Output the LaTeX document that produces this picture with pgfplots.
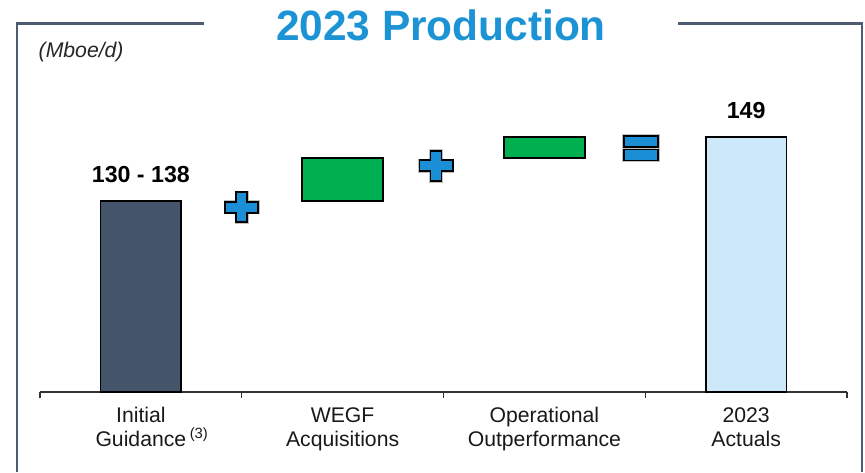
\documentclass[border=0pt]{standalone}
\usepackage{pgfplots}
\pgfplotsset{compat=1.18}
\usepackage{fontspec}
\setmainfont{Liberation Sans}

\definecolor{framecol}{HTML}{4E5B73}
\definecolor{titleblue}{HTML}{1B93D4}
\definecolor{slate}{HTML}{44546A}
\definecolor{barGreen}{HTML}{00B050}
\definecolor{lightblue}{HTML}{CDE8F9}
\definecolor{opblue}{HTML}{1A8FD6}

% operator glyphs drawn around a centre point
\newcommand\plussign[1]{%
  \draw[draw=gray!50, line width=2.4pt, fill=opblue]
    (#1) +(-4.125pt,11.25pt) -- +(4.125pt,11.25pt) -- +(4.125pt,4.125pt)
    -- +(12.4pt,4.125pt) -- +(12.4pt,-4.125pt) -- +(4.125pt,-4.125pt)
    -- +(4.125pt,-11.25pt) -- +(-4.125pt,-11.25pt) -- +(-4.125pt,-4.125pt)
    -- +(-12.4pt,-4.125pt) -- +(-12.4pt,4.125pt) -- +(-4.125pt,4.125pt) -- cycle;
  \draw[draw=black, line width=1.4pt, fill=opblue]
    (#1) +(-4.125pt,11.25pt) -- +(4.125pt,11.25pt) -- +(4.125pt,4.125pt)
    -- +(12.4pt,4.125pt) -- +(12.4pt,-4.125pt) -- +(4.125pt,-4.125pt)
    -- +(4.125pt,-11.25pt) -- +(-4.125pt,-11.25pt) -- +(-4.125pt,-4.125pt)
    -- +(-12.4pt,-4.125pt) -- +(-12.4pt,4.125pt) -- +(-4.125pt,4.125pt) -- cycle;}
\newcommand\equalsign[1]{%
  \draw[draw=gray!50, line width=2.4pt, fill=opblue]
    (#1) +(-12.75pt,1.1pt) rectangle +(12.75pt,9.35pt)
    (#1) +(-12.75pt,-9.35pt) rectangle +(12.75pt,-1.1pt);
  \draw[draw=black, line width=1.4pt, fill=opblue]
    (#1) +(-12.75pt,1.1pt) rectangle +(12.75pt,9.35pt)
    (#1) +(-12.75pt,-9.35pt) rectangle +(12.75pt,-1.1pt);}

\begin{document}
\begin{tikzpicture}[x=0.75pt, y=0.75pt]
\path[use as bounding box] (0,0) rectangle (865,472);

% frame around the panel, broken by the title
\draw[framecol, line width=1.6pt] (17,0) -- (17,448.5) -- (204,448.5);
\draw[framecol, line width=1.6pt] (678,448.5) -- (862,448.5) -- (862,0);

\node[text=titleblue, font=\fontsize{31.8}{38}\selectfont\bfseries] at (441,447) {2023 Production};
\node[anchor=west, font=\fontsize{15.9}{19}\selectfont\itshape, text=black!85] at (34,420) {(Mboe/d)};

\begin{axis}[
  at={(30pt,60pt)}, anchor=south west,
  scale only axis,
  width=605.25pt, height=226.3pt,
  xmin=-0.5, xmax=3.5,
  ymin=89, ymax=160,
  axis x line=bottom,
  axis y line=none,
  x axis line style={-, black!80, line width=0.8pt},
  xtick={-0.5,0.5,1.5,2.5,3.5},
  xticklabels={},
  tick align=outside,
  major tick length=4.5pt,
  tick style={black!80, line width=0.8pt},
  extra x ticks={0,1,2,3},
  extra x tick labels={Initial\\Guidance\rlap{\,\textsuperscript{(3)}},WEGF\\Acquisitions,Operational\\Outperformance,2023\\Actuals},
  extra x tick style={major tick length=0pt,
    tick label style={align=center, text=black!90,
      font=\fontsize{15.9}{18}\selectfont, yshift=-8pt}},
  clip=false,
]
% start and end totals
\addplot[fill=slate, draw=black, line width=1.4pt]
  coordinates {(-0.2,89) (0.2,89) (0.2,134) (-0.2,134)} -- cycle;
\addplot[fill=lightblue, draw=black, line width=1.4pt]
  coordinates {(2.8,89) (3.2,89) (3.2,149) (2.8,149)} -- cycle;
% increments: WEGF 134 -> 144, operational 144 -> 149
\addplot[fill=barGreen, draw=black, line width=1.4pt]
  coordinates {(0.8,134) (1.2,134) (1.2,144) (0.8,144)} -- cycle;
\addplot[fill=barGreen, draw=black, line width=1.4pt]
  coordinates {(1.8,144) (2.2,144) (2.2,149) (1.8,149)} -- cycle;

\node[anchor=base, yshift=13.5pt, font=\fontsize{17.4}{20}\selectfont\bfseries]
  at (axis cs:0,134) {130 - 138};
\node[anchor=base, yshift=14pt, font=\fontsize{17.4}{20}\selectfont\bfseries]
  at (axis cs:3,149) {149};

\plussign{axis cs:0.5,132.5}
\plussign{axis cs:1.463,142.2}
\equalsign{axis cs:2.479,146.4}
\end{axis}
\end{tikzpicture}
\end{document}
